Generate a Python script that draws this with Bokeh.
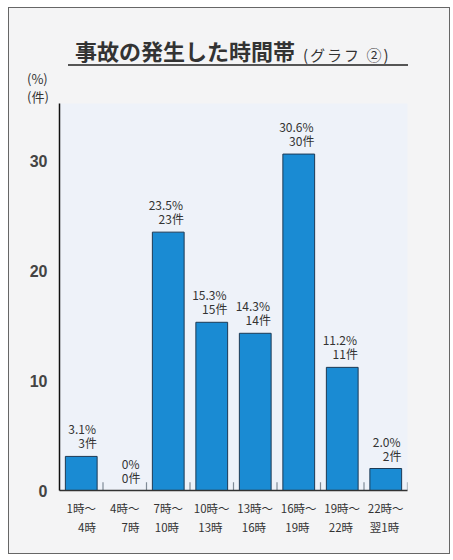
from bokeh.plotting import figure
from bokeh.models import ColumnDataSource, FactorRange, Range1d, FixedTicker, Div
from bokeh.layouts import column
from bokeh.transform import dodge
from bokeh.core.properties import value
from bokeh.embed import file_html
from bokeh.resources import INLINE

# ---- data ----
categories = ["1時～\n\u30004時", "4時～\n\u30007時", "7時～\n 10時", "10時～\n 13時",
              "13時～\n 16時", "16時～\n 19時", "19時～\n 22時", "22時～\n 翌1時"]
percent = [3.1, 0.0, 23.5, 15.3, 14.3, 30.6, 11.2, 2.0]
counts = [3, 0, 23, 15, 14, 30, 11, 2]
y_ticks = [0, 10, 20, 30]
title_text = "事故の発生した時間帯"
subtitle_text = "(グラフ ②)"
unit_texts = ["(%)", "(件)"]

FONT = "Noto Sans CJK JP"
TXT = "#333333"
PANEL = "#f4f4f5"

pct_text = ["0%" if v == 0 else f"{v:.1f}%" for v in percent]
cnt_text = [f"{n}件" for n in counts]

src = ColumnDataSource(dict(cat=categories, pct=percent, cnt=counts,
                            pct_text=pct_text, cnt_text=cnt_text,
                            zero=[0] * len(categories),
                            tick_top=[0.75] * len(categories)))

p = figure(width=430, height=450, output_backend="svg", toolbar_location=None,
           x_range=FactorRange(factors=categories, range_padding=0),
           y_range=Range1d(0, 35.2),
           min_border_left=50, min_border_right=32, min_border_top=0, min_border_bottom=63)

p.background_fill_color = "#eef2f9"
p.border_fill_color = PANEL
p.outline_line_color = None
p.grid.grid_line_color = None

p.vbar(x="cat", top="pct", width=0.73, source=src,
       fill_color="#1a8bd3", line_color="#1d3a55", line_width=1)

# small separators at category boundaries
p.segment(x0=dodge("cat", 0.5, range=p.x_range), y0="zero",
          x1=dodge("cat", 0.5, range=p.x_range), y1="tick_top",
          source=src, line_color="#7f8a96", line_width=1.2)

p.text(x=dodge("cat", 0.34, range=p.x_range), y="pct", text="pct_text", source=src,
       text_align="right", text_baseline="bottom", y_offset=-19,
       text_font=value(FONT), text_font_size="12px", text_color=TXT)
p.text(x=dodge("cat", 0.36, range=p.x_range), y="pct", text="cnt_text", source=src,
       text_align="right", text_baseline="bottom", y_offset=-5,
       text_font=value(FONT), text_font_size="12px", text_color=TXT)

# axes
p.yaxis.ticker = FixedTicker(ticks=y_ticks)
p.yaxis.axis_line_color = "#111111"
p.yaxis.axis_line_width = 1.5
p.yaxis.major_tick_line_color = None
p.yaxis.minor_tick_line_color = None
p.yaxis.major_label_text_font = "Liberation Sans"
p.yaxis.major_label_text_font_style = "bold"
p.yaxis.major_label_text_font_size = "16px"
p.yaxis.major_label_text_color = "#444444"
p.yaxis.major_label_standoff = 6

p.xaxis.axis_line_color = "#333333"
p.xaxis.axis_line_width = 1.5
p.xaxis.major_tick_line_color = None
p.xaxis.minor_tick_line_color = None
p.xaxis.major_label_text_font = FONT
p.xaxis.major_label_text_font_size = "11.5px"
p.xaxis.major_label_text_color = TXT
p.xaxis.major_label_standoff = 3

# heading block (title, underline, unit labels)
f = (f"font-family:'{FONT}';color:#333;white-space:nowrap;position:absolute;"
     "display:block;line-height:1;")
html = (
    f'<div style="position:relative;width:430px;height:85px;">'
    f'<span style="{f}left:61px;top:26px;font-size:22px;height:22px;font-weight:bold;">{title_text}</span>'
    f'<span style="{f}left:289px;top:34px;font-size:15px;height:15px;letter-spacing:2px;">{subtitle_text}</span>'
    f'<div style="position:absolute;left:54px;top:51px;width:340px;height:2px;background:#555;"></div>'
    f'<span style="{f}left:13px;top:59px;font-size:13px;height:13px;">{unit_texts[0]}</span>'
    f'<span style="{f}left:13px;top:77px;font-size:13px;height:13px;">{unit_texts[1]}</span>'
    f'</div>'
)
head = Div(text=html, width=430, height=85, styles={"background-color": PANEL})

layout = column(head, p, spacing=0,
                styles={"margin-left": "8px", "margin-top": "7px",
                        "border": "1px solid #666666", "background-color": PANEL})

open("out.html", "w").write(file_html(layout, INLINE))
